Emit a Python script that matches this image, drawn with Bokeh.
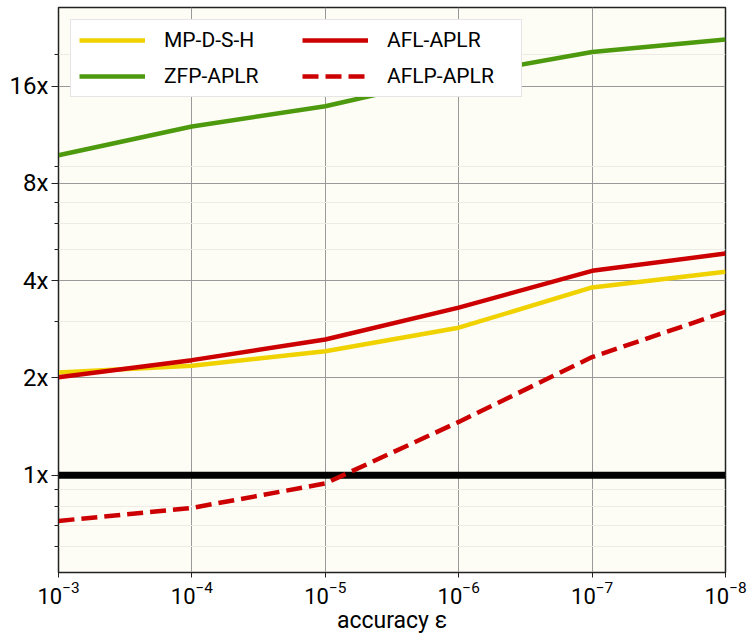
from bokeh.plotting import figure
from bokeh.models import (FixedTicker, CustomJSTickFormatter, Span, Legend,
                          LegendItem, Range1d)
from bokeh.embed import file_html
from bokeh.resources import INLINE

accuracy = [1e-3, 1e-4, 1e-5, 1e-6, 1e-7, 1e-8]
mp_d_s_h = [2.08, 2.18, 2.42, 2.86, 3.81, 4.26]
zfp_aplr = [9.77, 12.0, 13.86, 17.2, 20.4, 22.3]
afl_aplr = [2.01, 2.27, 2.63, 3.30, 4.29, 4.85]
aflp_aplr = [0.722, 0.792, 0.943, 1.462, 2.32, 3.20]
y_ticks = [1, 2, 4, 8, 16]
y_minor = [0.6, 0.7, 0.8, 0.9, 3, 5, 6, 7, 9, 20]
baseline = 1

FONT = "Roboto"

p = figure(width=753, height=637, x_axis_type="log", y_axis_type="log",
           x_range=Range1d(1e-3, 1e-8), y_range=Range1d(0.5, 28),
           output_backend="svg", toolbar_location=None,
           min_border_left=58, min_border_right=28, min_border_top=7,
           min_border_bottom=65)

p.border_fill_color = "#ffffff"
p.background_fill_color = "#fdfdf5"
p.outline_line_color = "#222222"
p.outline_line_width = 1.5

# grids
p.xgrid.ticker = FixedTicker(ticks=accuracy)
p.xgrid.grid_line_color = "#999999"
p.xgrid.grid_line_width = 1
p.ygrid.ticker = FixedTicker(ticks=y_ticks, minor_ticks=y_minor)
p.ygrid.grid_line_color = "#999999"
p.ygrid.grid_line_width = 1
p.ygrid.minor_grid_line_color = "#ececE4"
p.ygrid.minor_grid_line_width = 1

# axes
xa = p.xaxis[0]
xa.ticker = FixedTicker(ticks=accuracy)
xa.axis_label = "accuracy ε"
xa.axis_label_text_font = FONT
xa.axis_label_text_font_size = "23px"
xa.axis_label_text_font_style = "normal"
xa.axis_label_text_color = "black"
xa.axis_label_standoff = 0
xa.major_label_text_font = FONT
xa.major_label_text_font_size = "22px"
xa.major_label_text_color = "black"
xa.major_label_standoff = 3
xa.major_tick_out = 5
xa.major_tick_in = 0
xa.minor_tick_out = 0
xa.minor_tick_in = 0
xa.axis_line_color = "#222222"
xa.major_tick_line_color = "#222222"

ya = p.yaxis[0]
ya.ticker = FixedTicker(ticks=y_ticks, minor_ticks=y_minor)
ya.formatter = CustomJSTickFormatter(code="return tick + 'x';")
ya.major_label_text_font = FONT
ya.major_label_text_font_size = "24px"
ya.major_label_text_color = "black"
ya.major_label_standoff = 3
ya.major_tick_out = 7
ya.major_tick_in = 0
ya.minor_tick_out = 4
ya.minor_tick_in = 0
ya.axis_line_color = "#222222"
ya.major_tick_line_color = "#222222"
ya.minor_tick_line_color = "#222222"

# baseline 1x
p.add_layout(Span(location=baseline, dimension="width", line_color="black",
                  line_width=7, level="underlay"))

LW = 4.5
r1 = p.line(accuracy, mp_d_s_h, line_color="#efd200", line_width=LW)
r2 = p.line(accuracy, zfp_aplr, line_color="#4e9a0f", line_width=LW)
r3 = p.line(accuracy, afl_aplr, line_color="#cc0000", line_width=LW)
r4 = p.line(accuracy, aflp_aplr, line_color="#cc0000", line_width=LW,
            line_dash="16 7")

legend = Legend(items=[
    LegendItem(label="MP-D-S-H", renderers=[r1]),
    LegendItem(label="ZFP-APLR", renderers=[r2]),
    LegendItem(label="AFL-APLR", renderers=[r3]),
    LegendItem(label="AFLP-APLR", renderers=[r4]),
], ncols=2, location="top_left")
legend.margin = 12
legend.padding = 8
legend.spacing = 12
legend.glyph_width = 66
legend.glyph_height = 24
legend.label_height = 24
legend.label_width = 126
legend.label_standoff = 19
legend.label_text_font = FONT
legend.label_text_font_size = "21px"
legend.label_text_color = "black"
legend.border_line_color = "#cccccc"
legend.border_line_width = 1.5
legend.background_fill_color = "white"
legend.background_fill_alpha = 1.0
p.add_layout(legend, "center")

open("out.html", "w").write(file_html(p, INLINE))
